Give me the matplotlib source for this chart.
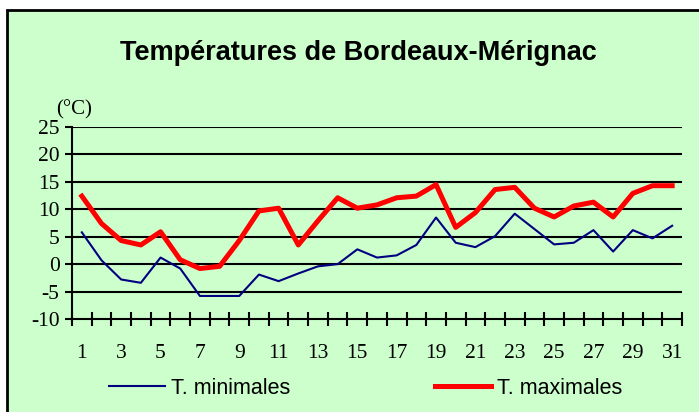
import matplotlib.pyplot as plt
from matplotlib.patches import Rectangle

# Daily temperatures (°C)
days = list(range(1, 32))
t_min = [5.8, 0.7, -2.8, -3.4, 1.2, -0.8, -5.8, -5.8, -5.8, -1.9,
         -3.1, -1.7, -0.4, 0.0, 2.7, 1.2, 1.6, 3.5, 8.5, 3.9,
         3.1, 5.1, 9.2, 6.4, 3.6, 3.9, 6.2, 2.3, 6.2, 4.7, 7.0]
t_max = [12.4, 7.4, 4.3, 3.5, 5.9, 0.8, -0.8, -0.4, 4.3, 9.7,
         10.2, 3.5, 7.9, 12.1, 10.2, 10.8, 12.1, 12.4, 14.5, 6.7,
         9.4, 13.6, 14.0, 10.2, 8.6, 10.6, 11.3, 8.6, 12.9, 14.3, 14.3]
y_ticks = [-10, -5, 0, 5, 10, 15, 20, 25]
x_labels = [str(d) for d in days[::2]]

green = '#CCFFCC'
serif = 'Liberation Serif'
sans = 'Liberation Sans'

fig = plt.figure(figsize=(6.99, 4.12), dpi=100)
fig.patch.set_facecolor('white')

# outer frame of the chart area
fig.patches.append(Rectangle((7 / 699, -0.1), 1.1, 0.1 + (412 - 10) / 412,
                             transform=fig.transFigure, facecolor=green,
                             edgecolor='black', linewidth=2, zorder=0))

ax = fig.add_axes([72 / 699, (412 - 319) / 412, (682 - 72) / 699, (319 - 127) / 412])
ax.set_zorder(2)
ax.set_facecolor(green)

for y in y_ticks[1:]:
    ax.axhline(y, color='black', linewidth=1.5, zorder=1)

ax.plot(days, t_min, color='#000080', linewidth=1.5, label='T. minimales', zorder=3)
ax.plot(days, t_max, color='#FF0000', linewidth=3.6, label='T. maximales', zorder=3)

ax.set_xlim(0.5, 31.5)
ax.set_ylim(-10, 25)

for s in ['top', 'right']:
    ax.spines[s].set_visible(False)
for s in ['left', 'bottom']:
    ax.spines[s].set_linewidth(1.5)
    ax.spines[s].set_color('black')

ax.set_yticks(y_ticks)
ax.set_yticklabels([str(v) for v in y_ticks], fontfamily=serif, fontsize=15.5)
ax.tick_params(axis='y', direction='out', length=5, width=1.5, pad=4)

# boundary ticks between days, labels on odd days
ax.set_xticks([d - 0.5 for d in days] + [31.5])
ax.set_xticklabels([])
ax.tick_params(axis='x', direction='inout', length=10, width=1.5)
for d, lab in zip(days[::2], x_labels):
    ax.text(d, -16.2, lab, ha='center', va='center', fontfamily=serif, fontsize=15.5,
            clip_on=False)

ax.text(0.6, 28.1, '(°C)', ha='center', va='center', fontfamily=serif, fontsize=15,
        clip_on=False)

fig.text(358 / 699, 1 - 53 / 412, 'Températures de Bordeaux-Mérignac',
         ha='center', va='center', fontfamily=sans, fontweight='bold', fontsize=19.5)

fig.legend(loc='center left', bbox_to_anchor=(90 / 699, 1 - 388 / 412), ncol=2,
           frameon=False, prop={'family': sans, 'size': 15.5},
           handlelength=2.6, handletextpad=0.25, columnspacing=6.75)

plt.savefig('out.png', dpi=100)
plt.close()
